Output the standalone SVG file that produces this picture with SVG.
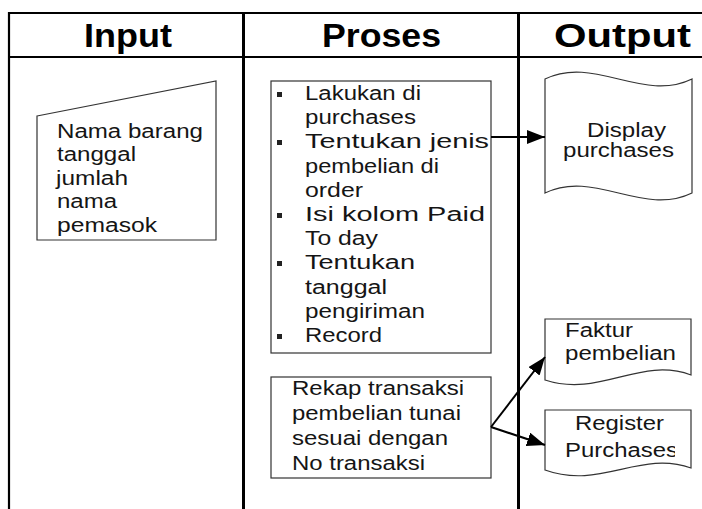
<svg xmlns="http://www.w3.org/2000/svg" width="702" height="509" viewBox="0 0 702 509">
<style>
.frame{stroke:#000;fill:none}
.node{fill:#fff;stroke:#333;stroke-width:1.2}
.hdr{font-family:"Liberation Sans",Arial,sans-serif;font-weight:bold;font-size:33px;fill:#000}
.t{font-family:"Liberation Sans",Arial,sans-serif;font-size:20px;fill:#151515}
.conn{stroke:#000;stroke-width:2;fill:none}
</style>
<defs>
<marker id="ah" markerUnits="userSpaceOnUse" markerWidth="18" markerHeight="14" refX="18" refY="7" orient="auto">
<path d="M0,0 L18,7 L0,14 z" fill="#000"/>
</marker>
<clipPath id="cp1"><rect x="271" y="81" width="219" height="272"/></clipPath>
<clipPath id="cp2"><rect x="271" y="377" width="192" height="101"/></clipPath>
<clipPath id="cpo"><rect x="545" y="322" width="130" height="182"/></clipPath>
</defs>
<rect width="702" height="509" fill="#fff"/>
<g id="table">
<line class="frame" x1="8" y1="13" x2="702" y2="13" stroke-width="2"/>
<line class="frame" x1="8" y1="57" x2="702" y2="57" stroke-width="2"/>
<line class="frame" x1="9" y1="12" x2="9" y2="509" stroke-width="2.2"/>
<line class="frame" x1="243.5" y1="12" x2="243.5" y2="509" stroke-width="3"/>
<line class="frame" x1="518.5" y1="12" x2="518.5" y2="509" stroke-width="3"/>
<text class="hdr" x="84" y="47" textLength="88" lengthAdjust="spacingAndGlyphs">Input</text>
<text class="hdr" x="322" y="47" textLength="119" lengthAdjust="spacingAndGlyphs">Proses</text>
<text class="hdr" x="554" y="47" textLength="137" lengthAdjust="spacingAndGlyphs">Output</text>
</g>
<g id="input">
<polygon class="node" points="37,116 216,81 216,240 37,240"/>
<text class="t" x="57" y="137.5" textLength="146" lengthAdjust="spacingAndGlyphs">Nama barang</text>
<text class="t" x="57" y="161" textLength="79" lengthAdjust="spacingAndGlyphs">tanggal</text>
<text class="t" x="56" y="184.5" textLength="72" lengthAdjust="spacingAndGlyphs">jumlah</text>
<text class="t" x="57" y="208" textLength="60" lengthAdjust="spacingAndGlyphs">nama</text>
<text class="t" x="57" y="231.5" textLength="100" lengthAdjust="spacingAndGlyphs">pemasok</text>
</g>
<g id="proses1">
<rect class="node" x="271" y="81" width="220" height="272"/>
<g fill="#222">
<rect x="277" y="92" width="5" height="5"/>
<rect x="277" y="140" width="5" height="5"/>
<rect x="277" y="213" width="5" height="5"/>
<rect x="277" y="261" width="5" height="5"/>
<rect x="277" y="334" width="5" height="5"/>
</g>
<g clip-path="url(#cp1)">
<text class="t" x="305" y="100" textLength="116" lengthAdjust="spacingAndGlyphs">Lakukan di</text>
<text class="t" x="305" y="124" textLength="111" lengthAdjust="spacingAndGlyphs">purchases</text>
<text class="t" x="305" y="148" textLength="184" lengthAdjust="spacingAndGlyphs">Tentukan jenis</text>
<text class="t" x="305" y="173" textLength="134" lengthAdjust="spacingAndGlyphs">pembelian di</text>
<text class="t" x="305" y="197" textLength="58" lengthAdjust="spacingAndGlyphs">order</text>
<text class="t" x="305" y="221" textLength="180" lengthAdjust="spacingAndGlyphs">Isi kolom Paid</text>
<text class="t" x="305" y="245" textLength="73" lengthAdjust="spacingAndGlyphs">To day</text>
<text class="t" x="305" y="269" textLength="110" lengthAdjust="spacingAndGlyphs">Tentukan</text>
<text class="t" x="305" y="294" textLength="82" lengthAdjust="spacingAndGlyphs">tanggal</text>
<text class="t" x="305" y="318" textLength="120" lengthAdjust="spacingAndGlyphs">pengiriman</text>
<text class="t" x="305" y="342" textLength="77" lengthAdjust="spacingAndGlyphs">Record</text>
</g>
</g>
<g id="proses2">
<rect class="node" x="271" y="377" width="220" height="101"/>
<g clip-path="url(#cp2)">
<text class="t" x="292" y="395" textLength="172" lengthAdjust="spacingAndGlyphs">Rekap transaksi</text>
<text class="t" x="292" y="420" textLength="169" lengthAdjust="spacingAndGlyphs">pembelian tunai</text>
<text class="t" x="292" y="445" textLength="156" lengthAdjust="spacingAndGlyphs">sesuai dengan</text>
<text class="t" x="292" y="470" textLength="133" lengthAdjust="spacingAndGlyphs">No transaksi</text>
</g>
</g>
<g id="display">
<path class="node" d="M545,79 C594,55 643,103 692,79 L692,193 C643,217 594,169 545,193 Z"/>
<text class="t" x="587" y="137" textLength="79" lengthAdjust="spacingAndGlyphs">Display</text>
<text class="t" x="563" y="157" textLength="111" lengthAdjust="spacingAndGlyphs">purchases</text>
</g>
<g id="faktur">
<path class="node" d="M545,319 L691,319 L691,375 C640,356 600,398 545,380 Z"/>
<g clip-path="url(#cpo)">
<text class="t" x="565" y="337" textLength="68" lengthAdjust="spacingAndGlyphs">Faktur</text>
<text class="t" x="565" y="360" textLength="111" lengthAdjust="spacingAndGlyphs">pembelian</text>
</g>
</g>
<g id="register">
<path class="node" d="M545,410 L691,410 L691,468 C640,450 600,490 545,470 Z"/>
<g clip-path="url(#cpo)">
<text class="t" x="575" y="430" textLength="89" lengthAdjust="spacingAndGlyphs">Register</text>
<text class="t" x="565" y="457" textLength="113" lengthAdjust="spacingAndGlyphs">Purchases</text>
</g>
</g>
<g id="connectors">
<line class="conn" x1="491" y1="137" x2="545" y2="137" marker-end="url(#ah)"/>
<line class="conn" x1="491" y1="427" x2="545" y2="357" marker-end="url(#ah)"/>
<line class="conn" x1="491" y1="427" x2="545" y2="445" marker-end="url(#ah)"/>
</g>
</svg>
